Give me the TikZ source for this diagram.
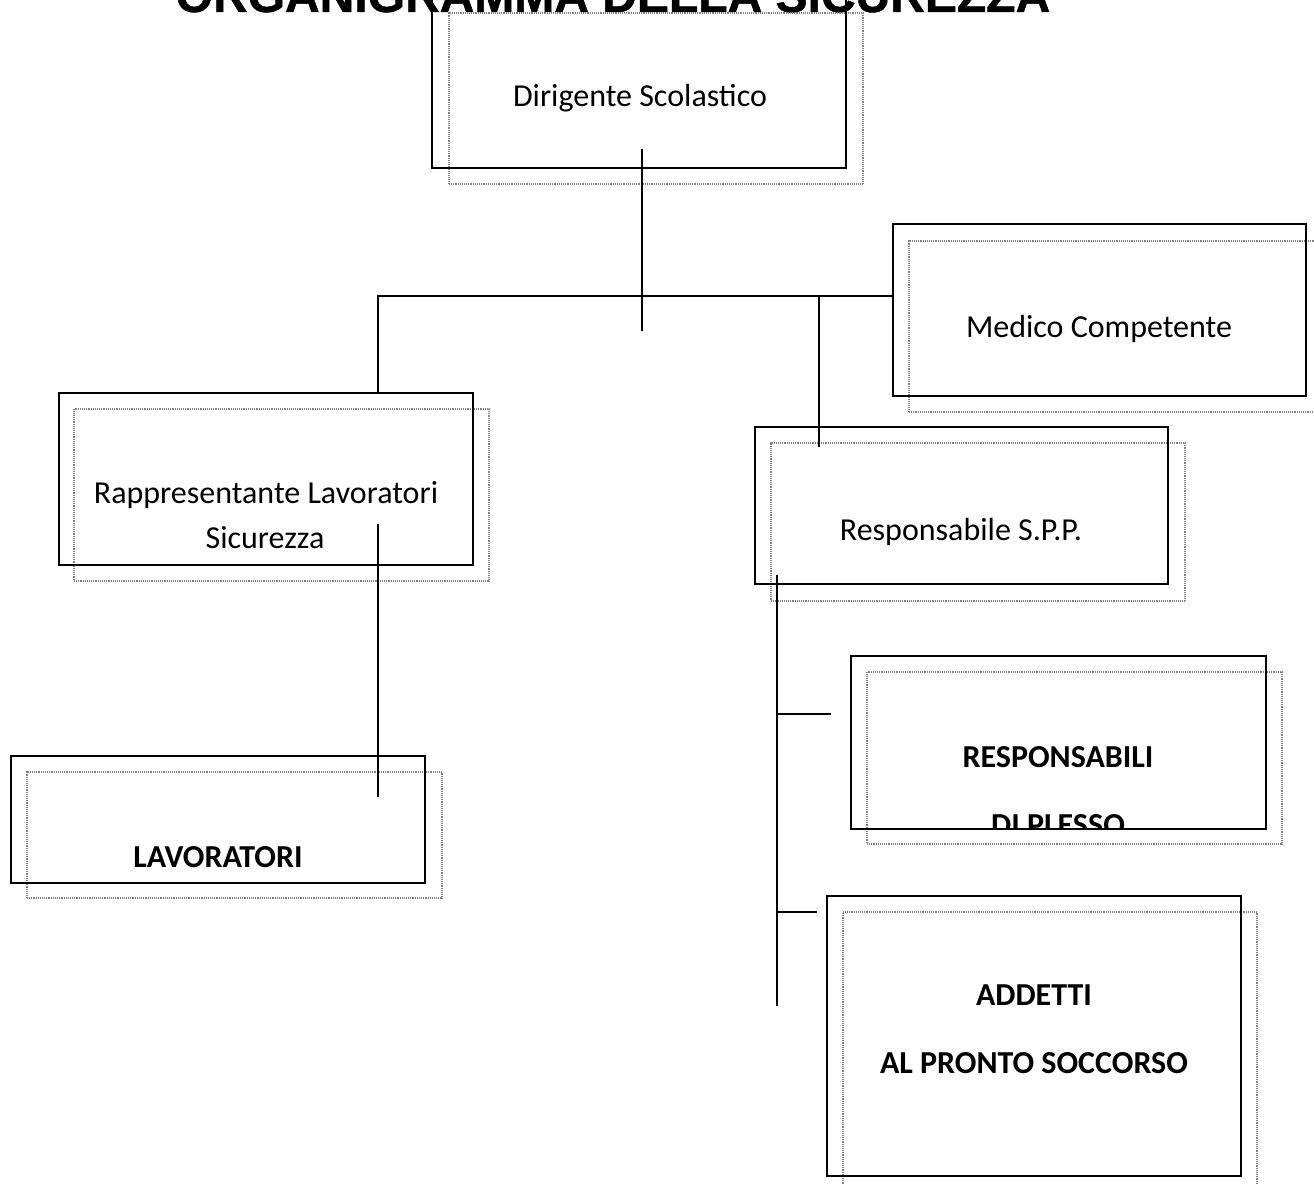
\documentclass[tikz,border=0pt]{standalone}
\usepackage{fontspec}
\setmainfont{Carlito}
\newfontfamily\titlefont[FakeBold=1]{Liberation Sans}
\usetikzlibrary{fit}
\begin{document}
\begin{tikzpicture}[x=0.75pt,y=-0.75pt,
  solidbox/.style={draw=black,line width=1.5pt,inner sep=0pt},
  shadowbox/.style={draw=black!50,line width=0.9pt,dash pattern=on 0.7pt off 0.7pt,inner sep=0pt},
  conn/.style={draw=black,line width=1.5pt},
  lbl/.style={font=\fontsize{24}{29}\selectfont,anchor=base,inner sep=0pt},
  blbl/.style={font=\fontsize{24}{29}\selectfont\bfseries,anchor=base,inner sep=0pt},
  ttl/.style={font=\titlefont\bfseries\fontsize{36}{40}\selectfont,anchor=base,inner sep=0pt}]
\useasboundingbox (0,0) rectangle (1314,1184);
\clip (0,0) rectangle (1314,1184);

% title (cut off at the top)
\node[ttl] (title) at (613,12) {ORGANIGRAMMA DELLA SICUREZZA};

% corner coordinates
\coordinate (dA) at (432,-3);   \coordinate (dB) at (846,168);
\coordinate (dsA) at (449,13);  \coordinate (dsB) at (863,184);
\coordinate (mA) at (893,224);  \coordinate (mB) at (1306,396);
\coordinate (msA) at (909,241); \coordinate (msB) at (1323,412);
\coordinate (rA) at (59,393);   \coordinate (rB) at (473,565);
\coordinate (rsA) at (74,409);  \coordinate (rsB) at (489,581);
\coordinate (sA) at (755,427);  \coordinate (sB) at (1168,584);
\coordinate (ssA) at (771,443); \coordinate (ssB) at (1185,601);
\coordinate (lA) at (11,756);   \coordinate (lB) at (425,883);
\coordinate (lsA) at (27,772);  \coordinate (lsB) at (442,898);
\coordinate (pA) at (851,656);  \coordinate (pB) at (1266,829);
\coordinate (psA) at (867,672); \coordinate (psB) at (1282,844);
\coordinate (aA) at (827,896);  \coordinate (aB) at (1241,1176);
\coordinate (asA) at (843,912); \coordinate (asB) at (1257,1192);

% shadow boxes
\node[shadowbox,fit=(dsA)(dsB)] (dirS) {};
\node[shadowbox,fit=(msA)(msB)] (medS) {};
\node[shadowbox,fit=(rsA)(rsB)] (rapS) {};
\node[shadowbox,fit=(ssA)(ssB)] (sppS) {};
\node[shadowbox,fit=(lsA)(lsB)] (lavS) {};
\node[shadowbox,fit=(psA)(psB)] (pleS) {};
\node[shadowbox,fit=(asA)(asB)] (addS) {};

% main boxes
\node[solidbox,fit=(dA)(dB)] (dir) {};
\node[solidbox,fit=(mA)(mB)] (med) {};
\node[solidbox,fit=(rA)(rB)] (rap) {};
\node[solidbox,fit=(sA)(sB)] (spp) {};
\node[solidbox,fit=(lA)(lB)] (lav) {};
\node[solidbox,fit=(pA)(pB)] (ple) {};
\node[solidbox,fit=(aA)(aB)] (add) {};

% texts
\node[lbl] (dirT) at (640,107) {Dirigente Scolastico};
\node[lbl] (medT) at (1099,337) {Medico Competente};
\node[lbl] (rapT1) at (266,503) {Rappresentante Lavoratori};
\node[lbl] (rapT2) at (265,548) {Sicurezza};
\node[lbl] (sppT) at (961,540) {Responsabile S.P.P.};
\node[blbl] (lavT) at (218,867) {LAVORATORI};
\node[blbl] (pleT1) at (1058,767) {RESPONSABILI};
\begin{scope}
  \clip (pA) rectangle (pB);
  \node[blbl] (pleT2) at (1058,835) {DI PLESSO};
\end{scope}
\node[blbl] (addT1) at (1034,1005) {ADDETTI};
\node[blbl] (addT2) at (1034,1073) {AL PRONTO SOCCORSO};

% connector points
\coordinate (j0) at (642,149);
\coordinate (j1) at (642,331);
\coordinate (hL) at (378,296);
\coordinate (hM) at (819,296);
\coordinate (hMe) at (819,447);
\coordinate (r1) at (378,524);
\coordinate (r2) at (378,797);
\coordinate (v1) at (777,575);
\coordinate (v2) at (777,1006);
\coordinate (b1) at (777,714);
\coordinate (b1e) at (831,714);
\coordinate (b2) at (777,912);
\coordinate (b2e) at (817,912);

% connectors
\draw[conn] (j0) -- (j1);
\draw[conn] (hL |- rap.north) -- (hL) -- (hL -| med.west);
\draw[conn] (hM) -- (hMe);
\draw[conn] (r1) -- (r2);
\draw[conn] (v1) -- (v2);
\draw[conn] (b1) -- (b1e);
\draw[conn] (b2) -- (b2e);
\end{tikzpicture}
\end{document}
